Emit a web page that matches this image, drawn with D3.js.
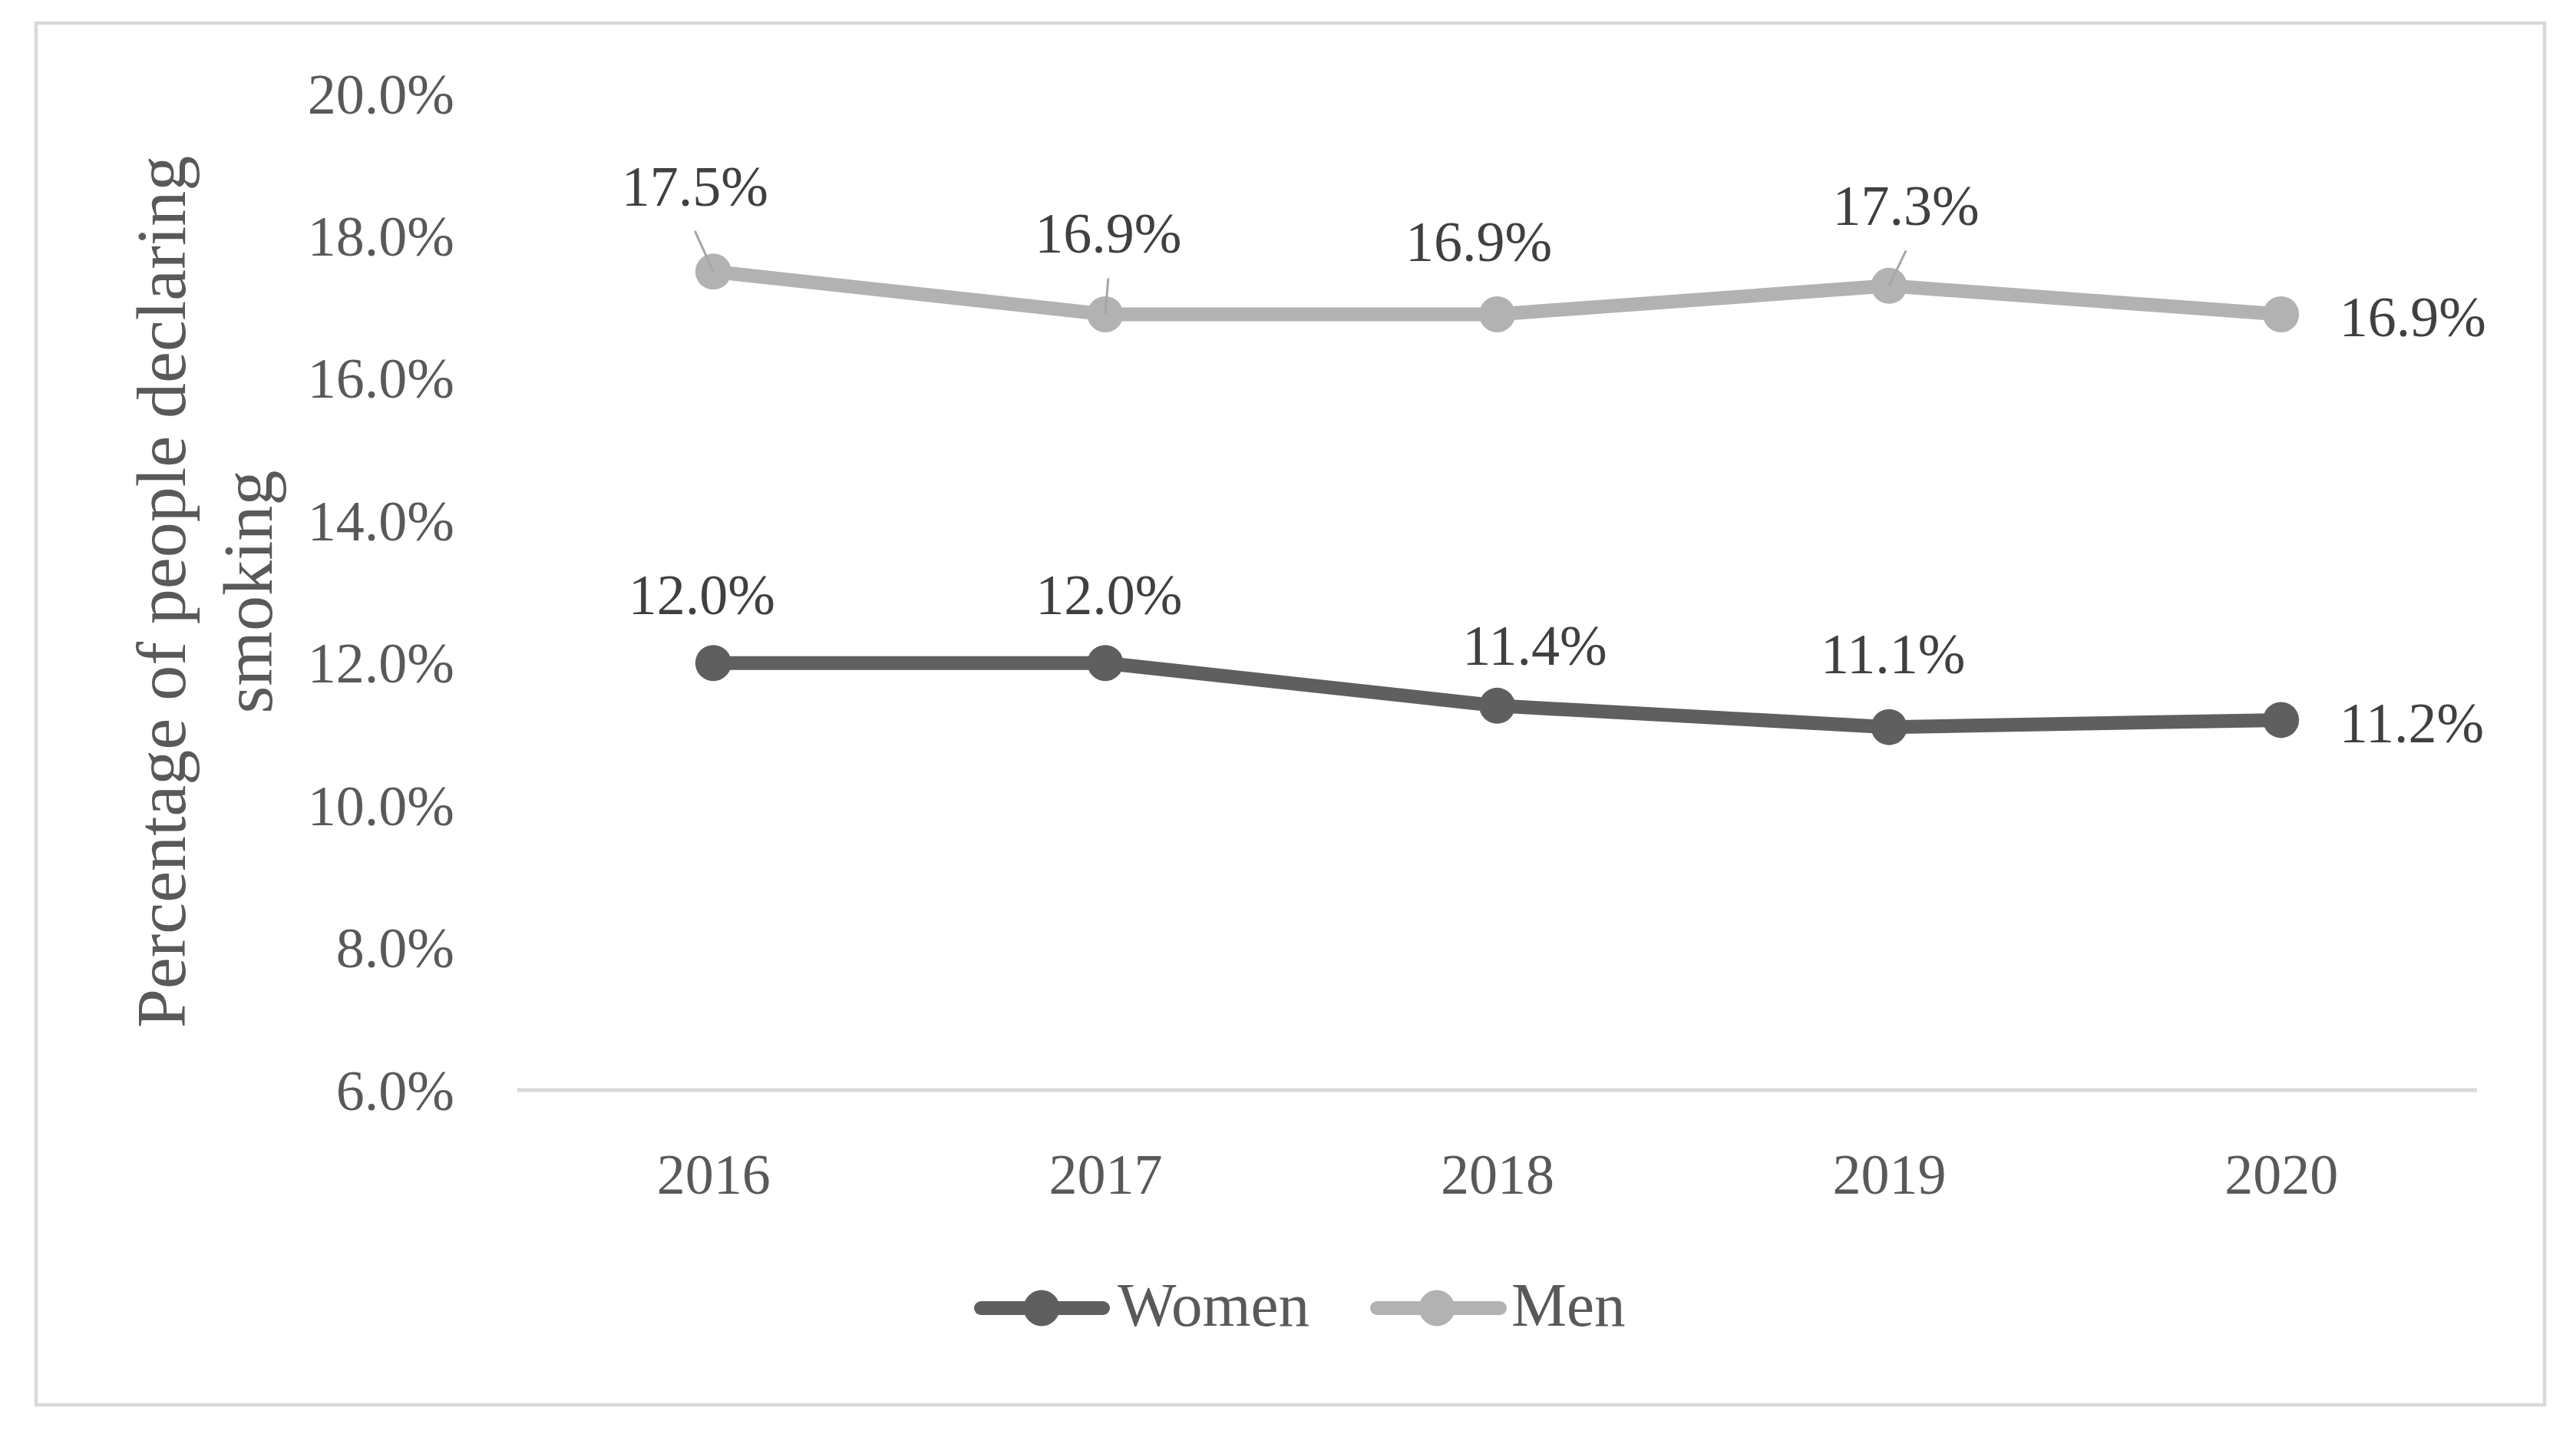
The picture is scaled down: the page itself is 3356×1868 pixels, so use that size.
<!DOCTYPE html>
<html>
<head>
<meta charset="utf-8">
<script src="https://cdn.jsdelivr.net/npm/d3@7"></script>
<style>
  html, body { margin: 0; padding: 0; background: #ffffff; }
  svg { display: block; }
</style>
</head>
<body>
<script>
// ---- data ----
const years = ["2016", "2017", "2018", "2019", "2020"];
const women = [12.0, 12.0, 11.4, 11.1, 11.2];
const men = [17.5, 16.9, 16.9, 17.3, 16.9];
const seriesNames = ["Women", "Men"];
const yTicks = [6, 8, 10, 12, 14, 16, 18, 20];
const yTitleLines = ["Percentage of people declaring", "smoking"];

// ---- layout ----
const W = 3356, H = 1868;
const FONT = "'Liberation Serif', 'Times New Roman', serif";
const colors = { Women: "#5f5f5f", Men: "#b2b2b2" };

// label nudges (pixels) relative to each point: [dx, dy, anchor, leader]
const labelNudge = {
  Men: [[-24, -111, "middle", true], [4, -105, "middle", true], [-24, -94, "middle", false], [22, -104, "middle", true], [76, 4, "start", false]],
  Women: [[-15, -89, "middle", false], [5, -89, "middle", false], [49, -78, "middle", false], [5, -95, "middle", false], [76, 4, "start", false]]
};

const svg = d3.select("body").append("svg").attr("width", W).attr("height", H);
svg.append("rect").attr("width", W).attr("height", H).attr("fill", "#ffffff");

// chart border
svg.append("rect")
  .attr("x", 47).attr("y", 30).attr("width", 3268).attr("height", 1800)
  .attr("fill", "none").attr("stroke", "#d9d9d9").attr("stroke-width", 4.5);

const x = d3.scalePoint().domain(years).range([674, 3227]).padding(0.5);
const y = d3.scaleLinear().domain([6, 20]).range([1420, 122]);

// y tick labels
const yAxis = d3.axisLeft(y).tickValues(yTicks).tickSize(0).tickPadding(0)
  .tickFormat(d => d.toFixed(1) + "%");
const gy = svg.append("g").attr("transform", "translate(592,0)").call(yAxis);
gy.select(".domain").remove();
gy.selectAll("text")
  .attr("font-family", FONT).attr("font-size", 74).attr("fill", "#595959")
  .attr("text-anchor", "end").attr("dy", null).attr("x", 0)
  .attr("dominant-baseline", "central");

// x axis
const xAxis = d3.axisBottom(x).tickSize(0).tickPadding(0);
const gx = svg.append("g").attr("transform", "translate(0,1420)").call(xAxis);
gx.select(".domain").attr("stroke", "#d9d9d9").attr("stroke-width", 5)
  .attr("d", "M674,0H3227");
gx.selectAll("text")
  .attr("font-family", FONT).attr("font-size", 74).attr("fill", "#595959")
  .attr("dy", null).attr("y", 110).attr("dominant-baseline", "central");

// y title
const t = svg.append("text")
  .attr("transform", "translate(241,771) rotate(-90)")
  .attr("text-anchor", "middle")
  .attr("font-family", FONT).attr("font-size", 92).attr("fill", "#595959");
yTitleLines.forEach((ln, i) => {
  t.append("tspan").attr("x", 0).attr("y", i * 113).text(ln);
});

// series
const series = [
  { name: "Women", values: women },
  { name: "Men", values: men }
];
const line = d3.line().x((d, i) => x(years[i])).y(d => y(d));

series.forEach(s => {
  const g = svg.append("g");
  g.append("path").datum(s.values).attr("d", line)
    .attr("fill", "none").attr("stroke", colors[s.name]).attr("stroke-width", 18)
    .attr("stroke-linejoin", "round");
  g.selectAll("circle").data(s.values).join("circle")
    .attr("cx", (d, i) => x(years[i])).attr("cy", d => y(d)).attr("r", 23.5)
    .attr("fill", colors[s.name]);
});

// data labels + leader lines
series.forEach(s => {
  const g = svg.append("g");
  s.values.forEach((v, i) => {
    const [dx, dy, anchor, leader] = labelNudge[s.name][i];
    const px = x(years[i]), py = y(v);
    const lx = px + dx, ly = py + dy;
    if (leader) {
      g.append("line").attr("x1", lx).attr("y1", ly + 58).attr("x2", px).attr("y2", py)
        .attr("stroke", "#a6a6a6").attr("stroke-width", 3);
    }
    g.append("text").attr("x", lx).attr("y", ly)
      .attr("text-anchor", anchor).attr("dominant-baseline", "central")
      .attr("font-family", FONT).attr("font-size", 74).attr("fill", "#404040")
      .text(v.toFixed(1) + "%");
  });
});

// legend
const legendItems = [
  { name: seriesNames[0], x0: 1278, x1: 1437, cx: 1357, tx: 1456 },
  { name: seriesNames[1], x0: 1794, x1: 1954, cx: 1872, tx: 1969 }
];
const lg = svg.append("g");
legendItems.forEach(it => {
  lg.append("line").attr("x1", it.x0).attr("x2", it.x1).attr("y1", 1704).attr("y2", 1704)
    .attr("stroke", colors[it.name]).attr("stroke-width", 18).attr("stroke-linecap", "round");
  lg.append("circle").attr("cx", it.cx).attr("cy", 1704).attr("r", 23.5).attr("fill", colors[it.name]);
  lg.append("text").attr("x", it.tx).attr("y", 1727)
    .attr("font-family", FONT).attr("font-size", 81).attr("fill", "#595959")
    .text(it.name);
});
</script>
</body>
</html>
